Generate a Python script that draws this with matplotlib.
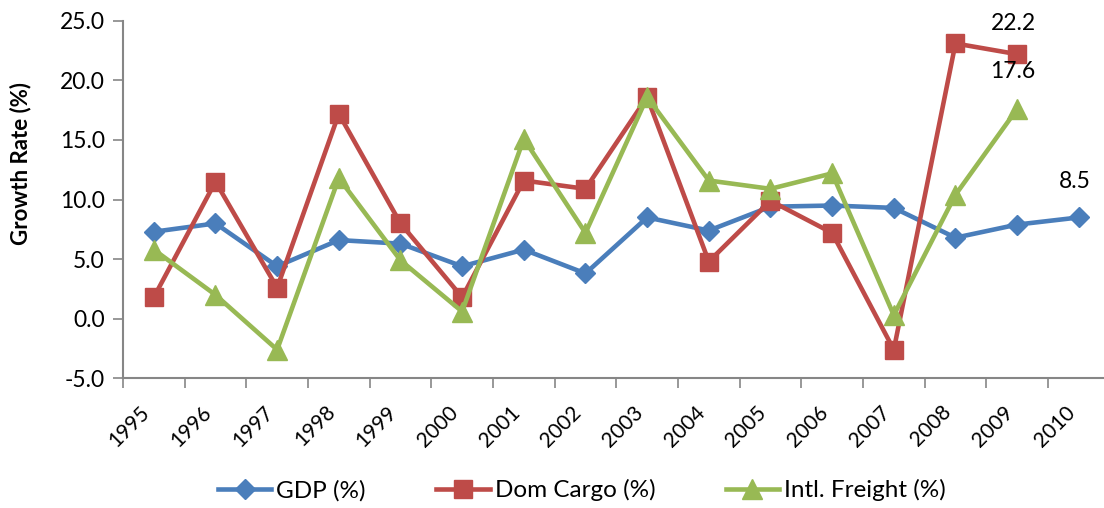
import matplotlib
matplotlib.use('Agg')
import matplotlib.pyplot as plt
import numpy as np

plt.rcParams['font.family'] = ['Lato', 'DejaVu Sans']

# data
years = ['1995', '1996', '1997', '1998', '1999', '2000', '2001', '2002',
         '2003', '2004', '2005', '2006', '2007', '2008', '2009', '2010']
gdp = [7.3, 8.0, 4.4, 6.6, 6.3, 4.4, 5.8, 3.8, 8.5, 7.4, 9.4, 9.5, 9.3, 6.8, 7.9, 8.5]
dom_cargo = [1.8, 11.5, 2.6, 17.2, 8.0, 1.8, 11.6, 10.9, 18.6, 4.8, 9.9, 7.2, -2.6, 23.1, 22.2]
intl_freight = [5.8, 2.0, -2.6, 11.8, 4.9, 0.6, 15.1, 7.2, 18.6, 11.6, 10.9, 12.2, 0.3, 10.4, 17.6]

blue = '#4A7EBB'
red = '#BE4B48'
green = '#98B954'
grey = '#868686'

fig = plt.figure(figsize=(11.04, 5.08), dpi=100)
ax = fig.add_axes([0.1114, 0.2553, 0.8937, 0.7037])

x = np.arange(len(years))
ax.plot(x, gdp, color=blue, lw=3.3, marker='D', ms=10, label='GDP (%)')
ax.plot(x[:len(dom_cargo)], dom_cargo, color=red, lw=3.3, marker='s', ms=13, label='Dom Cargo (%)')
ax.plot(x[:len(intl_freight)], intl_freight, color=green, lw=3.3, marker='^', ms=14, label='Intl. Freight (%)')

# data labels on the last points
ax.annotate(f'{dom_cargo[-1]:.1f}', (x[len(dom_cargo) - 1], dom_cargo[-1]), xytext=(-3, 22),
            textcoords='offset points', ha='center', va='center', fontsize=16.5)
ax.annotate(f'{intl_freight[-1]:.1f}', (x[len(intl_freight) - 1], intl_freight[-1]), xytext=(-3, 27),
            textcoords='offset points', ha='center', va='center', fontsize=16.5)
ax.annotate(f'{gdp[-1]:.1f}', (x[-1], gdp[-1]), xytext=(-3, 26),
            textcoords='offset points', ha='center', va='center', fontsize=16.5)

ax.set_xlim(-0.5, 15.5)
ax.set_ylim(-5, 25)
ax.set_yticks(np.arange(-5, 26, 5))
ax.set_yticklabels([f'{v:.1f}' for v in np.arange(-5, 26, 5)], fontsize=16.5)
ax.set_xticks(x)
ax.set_xticklabels(years, rotation=45, ha='right', fontsize=15)
ax.set_xticks(np.arange(-0.5, 15.5, 1), minor=True)
ax.tick_params(axis='x', which='major', length=0, pad=17)
ax.tick_params(axis='x', which='minor', length=7, width=1.2, color=grey, direction='out')
ax.tick_params(axis='y', length=7, width=1.2, color=grey, direction='out', pad=6)

for s in ['top', 'right']:
    ax.spines[s].set_visible(False)
for s in ['left', 'bottom']:
    ax.spines[s].set_color(grey)
    ax.spines[s].set_linewidth(1.5)

ax.set_ylabel('Growth Rate (%)', fontsize=16, fontweight='bold')
ax.yaxis.set_label_coords(-0.093, 0.60)

fig.legend(loc='lower center', bbox_to_anchor=(0.527, -0.03), ncol=3, frameon=False,
           fontsize=17.5, handlelength=2.2, columnspacing=2.9, handletextpad=0.2)

fig.savefig('out.png', dpi=100)
